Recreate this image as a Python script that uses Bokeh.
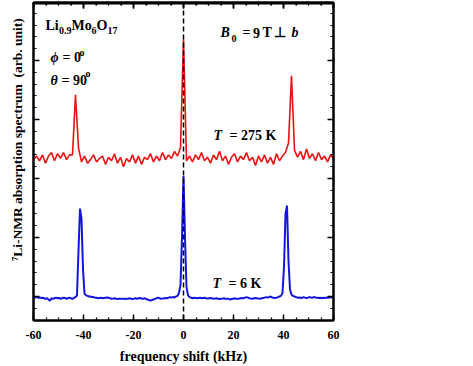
import numpy as np
from bokeh.plotting import figure
from bokeh.models import Range1d, LinearAxis, FixedTicker, Span, Label
from bokeh.embed import file_html
from bokeh.resources import INLINE

# ---------------- data ----------------
# frequency grids (kHz)
freq_275K = np.linspace(-60, 60, 101)
freq_6K = np.linspace(-60, 60, 201)

# 7Li-NMR absorption spectrum, T = 275 K (arb. unit, offset upward)
spec_275K = [
    11.6, 11.9, 11.5, 12.0, 11.3, 11.9, 12.2, 11.5, 12.1, 11.7,
    12.2, 11.6, 12.0, 12.0, 17.1, 12.6, 11.4, 11.9, 11.3, 11.6,
    12.0, 11.4, 11.7, 11.9, 11.2, 11.8, 11.5, 12.1, 11.3, 11.8,
    11.0, 11.7, 11.4, 12.0, 11.3, 11.9, 11.2, 11.8, 11.6, 12.1,
    11.4, 11.9, 11.5, 12.2, 11.6, 12.0, 11.7, 12.3, 11.9, 12.6,
    21.8, 11.5, 11.9, 11.4, 12.0, 11.6, 12.2, 11.5, 11.8, 11.3,
    12.0, 11.6, 12.3, 11.5, 11.9, 11.2, 11.8, 12.1, 11.4, 11.9,
    11.6, 12.2, 11.5, 11.8, 11.1, 11.9, 11.4, 12.0, 11.3, 11.8,
    11.2, 12.1, 11.5, 11.9, 12.2, 13.0, 18.7, 12.4, 11.8, 12.3,
    11.6, 12.5, 11.7, 12.1, 11.5, 12.2, 11.6, 11.9, 11.4, 12.0,
    11.7,
]

# 7Li-NMR absorption spectrum, T = 6 K
spec_6K = [
    -0.05, -0.1, -0.05, -0.1, -0.08, -0.12, -0.1, -0.15, -0.2, -0.15,
    -0.25, -0.35, -0.15, -0.2, -0.15, -0.1, -0.15, -0.12, -0.2, -0.15,
    -0.1, -0.12, -0.2, -0.15, -0.1, -0.15, -0.2, -0.1, -0.05, 0.1,
    3.9, 7.45, 6.6, 2.3, 0.25, 0.1, 0.05, 0.0, 0.0, -0.05,
    -0.05, -0.1, -0.1, -0.15, -0.12, -0.1, -0.15, -0.12, -0.1, -0.08,
    -0.1, -0.15, -0.2, -0.18, -0.15, -0.2, -0.22, -0.2, -0.18, -0.2,
    -0.2, -0.22, -0.18, -0.2, -0.15, -0.2, -0.22, -0.18, -0.15, -0.2,
    -0.15, -0.12, -0.18, -0.2, -0.15, -0.2, -0.25, -0.3, -0.35, -0.3,
    -0.25, -0.2, -0.15, -0.1, -0.15, -0.2, -0.18, -0.15, -0.12, -0.15,
    -0.1, -0.05, -0.1, -0.05, -0.08, 0.0, 0.05, 0.3, 1.0, 5.0,
    10.2, 5.0, 0.8, 0.1, -0.05, -0.1, -0.15, -0.1, -0.12, -0.15,
    -0.12, -0.1, -0.15, -0.12, -0.1, -0.15, -0.18, -0.15, -0.12, -0.15,
    -0.2, -0.18, -0.15, -0.2, -0.22, -0.2, -0.18, -0.15, -0.2, -0.18,
    -0.2, -0.25, -0.22, -0.2, -0.15, -0.2, -0.18, -0.2, -0.15, -0.12,
    -0.15, -0.1, -0.05, -0.1, -0.15, -0.18, -0.2, -0.15, -0.12, -0.15,
    -0.18, -0.2, -0.15, -0.12, -0.1, -0.05, -0.1, -0.05, 0.0, -0.08,
    -0.1, -0.12, -0.1, -0.05, 0.0, 0.05, 0.3, 2.5, 7.0, 7.7,
    3.0, 0.6, 0.15, 0.05, 0.0, -0.05, -0.1, -0.08, -0.1, -0.12,
    -0.05, -0.1, -0.12, -0.1, -0.05, -0.08, -0.1, -0.05, -0.08, -0.1,
    -0.12, -0.1, -0.15, -0.1, -0.12, -0.1, -0.08, -0.1, -0.05, -0.1, -0.08,
]

x_ticks = [-60, -40, -20, 0, 20, 40, 60]
x_tick_labels = ["-60", "-40", "-20", "0", "20", "40", "60"]
x_minor = list(range(-60, 61, 5))
y_major = [0, 5, 10, 15, 20]
y_minor = list(range(-2, 25))

x_title = "frequency shift (kHz)"
y_title = "\u2077Li-NMR absorption spectrum\u00a0 (arb. unit)"

# ---------------- layout ----------------
TOP = 2
X0, X1 = -60, 60
PX_PER_Y = 11.8
Y0 = (296 - 320) / PX_PER_Y
Y1 = (296 - TOP) / PX_PER_Y

FONT = "Liberation Serif"

p = figure(width=473, height=366, x_range=Range1d(X0, X1), y_range=Range1d(Y0, Y1),
           output_backend="svg", toolbar_location=None,
           min_border_left=33, min_border_right=140, min_border_top=TOP, min_border_bottom=46)
p.background_fill_color = "white"
p.border_fill_color = "white"
p.grid.visible = False
p.outline_line_color = "black"
p.outline_line_width = 2


def style_axis(ax, ticks, labels=None):
    ax.axis_line_width = 2
    ax.axis_line_color = "black"
    ax.major_tick_in = 6
    ax.major_tick_out = 0
    ax.minor_tick_in = 3
    ax.minor_tick_out = 0
    ax.major_tick_line_width = 1.5
    ax.minor_tick_line_width = 1.2
    if labels is not None:
        ax.major_label_overrides = {t: l for t, l in zip(ticks, labels)}
        ax.major_label_text_font = FONT
        ax.major_label_text_font_style = "bold"
        ax.major_label_text_font_size = "12px"
        ax.major_label_text_color = "black"
        ax.major_label_standoff = 10
    else:
        ax.major_label_overrides = {t: "" for t in ticks}
        ax.major_label_text_font_size = "1px"
        ax.major_label_text_color = None
        ax.major_label_standoff = 0


xb = p.xaxis[0]
xb.ticker = FixedTicker(ticks=x_ticks, minor_ticks=x_minor)
style_axis(xb, x_ticks, x_tick_labels)
xb.axis_label = x_title
xb.axis_label_text_font = FONT
xb.axis_label_text_font_style = "bold"
xb.axis_label_text_font_size = "14px"
xb.axis_label_text_color = "black"
xb.axis_label_standoff = 7

yl = p.yaxis[0]
yl.ticker = FixedTicker(ticks=y_major, minor_ticks=y_minor)
style_axis(yl, y_major)
# the title sits above the frame centre: pad its start so the visible text is centred higher
yl.axis_label = "\u00a0" * 13 + y_title
yl.axis_label_text_font = FONT
yl.axis_label_text_font_style = "bold"
yl.axis_label_text_font_size = "13.5px"
yl.axis_label_text_color = "black"
yl.axis_label_standoff = 9

xa = LinearAxis(ticker=FixedTicker(ticks=x_ticks, minor_ticks=x_minor))
style_axis(xa, x_ticks)
p.add_layout(xa, "above")
yr = LinearAxis(ticker=FixedTicker(ticks=y_major, minor_ticks=y_minor))
style_axis(yr, y_major)
p.add_layout(yr, "right")

# top border of the frame with inward ticks (mirrors the bottom axis ticks)
p.add_layout(Span(location=Y1, dimension="width", line_color="black", line_width=4))
major_len = 6 / PX_PER_Y
minor_len = 3 / PX_PER_Y
p.segment(x0=x_ticks, y0=[Y1] * len(x_ticks), x1=x_ticks, y1=[Y1 - major_len] * len(x_ticks),
          line_color="black", line_width=1.5)
p.segment(x0=x_minor, y0=[Y1] * len(x_minor), x1=x_minor, y1=[Y1 - minor_len] * len(x_minor),
          line_color="black", line_width=1.2)

# spectra
p.line(freq_275K, spec_275K, line_color="#ee1111", line_width=1.6)
p.line(freq_6K, spec_6K, line_color="#1515e0", line_width=2)

p.add_layout(Span(location=0, dimension="height", line_color="black",
                  line_dash="5 3", line_width=1.5))


def at(px, py):
    return (px - 33) / 2.5 - 60, (296 - py) / PX_PER_Y


def lab(px, py, text, size=14, style="bold", align="left"):
    x, y = at(px, py)
    p.add_layout(Label(x=x, y=y, text=text, text_font=FONT, text_font_style=style,
                       text_font_size=f"{size}px", text_color="black",
                       text_align=align, text_baseline="alphabetic"))


# compound formula
lab(45, 25, "Li")
lab(58.5, 30, "0.9", 10)
lab(71, 25, "Mo")
lab(91, 30, "6", 10)
lab(96, 25, "O")
lab(107, 30, "17", 10)

# angles
lab(50, 57, "ϕ", 14, "bold italic")
lab(62, 57, "= 0")
lab(79, 51.5, "o", 10)
lab(50, 80, "θ", 14, "bold italic")
lab(61, 80, "= 90")
lab(85, 73, "o", 10)

# field
lab(220, 32, "B", 14, "bold italic")
lab(231, 38, "0", 10)
lab(242, 32, "=")
lab(252.5, 32, "9")
lab(262, 32, "T")
lab(273, 32, "⊥")
lab(291, 32, "b", 14, "bold italic")

# temperatures
lab(213, 135, "T", 14, "bold italic")
lab(229, 135, "= 275 K")
lab(212, 283, "T", 14, "bold italic")
lab(228, 283, "= 6 K")

open("out.html", "w").write(file_html(p, INLINE))
